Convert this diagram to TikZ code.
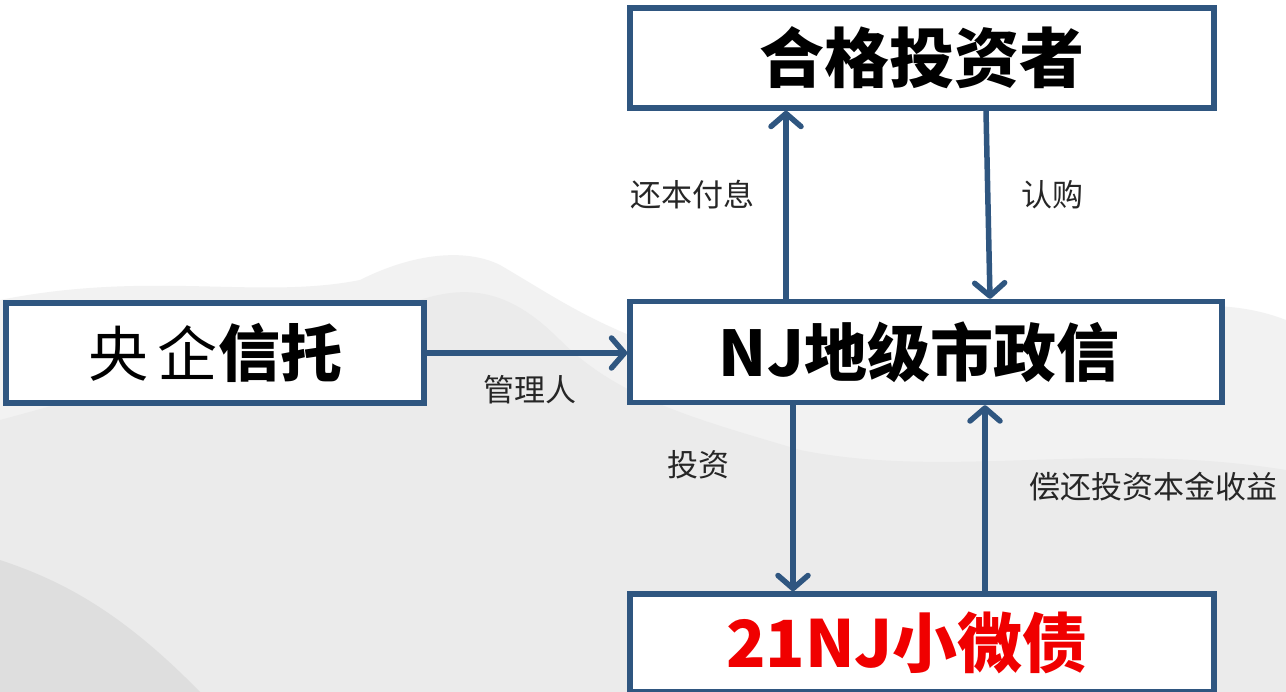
\documentclass[tikz,border=0pt]{standalone}
\usepackage{fontspec}
\newfontfamily\cjk{Noto Sans CJK SC}
\usetikzlibrary{arrows.meta}
\definecolor{boxblue}{RGB}{47,86,128}
\tikzset{
  box/.style={draw=boxblue, line width=5.5pt, fill=white, inner sep=0pt, align=center},
  arr/.style={draw=boxblue, line width=5.5pt, -{Straight Barb[length=13pt,width=30pt,line cap=round,line join=round]}},
  lbl/.style={font=\cjk\fontsize{31}{33}\selectfont, text=black!85},
  big/.style={font=\cjk\bfseries\fontsize{65}{67}\selectfont}
}
\begin{document}
\begin{tikzpicture}[x=1pt,y=-1pt]
\useasboundingbox (0,0) rectangle (1286,692);
\fill[white] (0,0) rectangle (1286,692);
% faint ink-wash mountains in the background
\fill[black!5] (0,300) .. controls (150,270) and (260,300) .. (360,280) .. controls (420,250) and (470,250) .. (500,265) .. controls (560,300) and (600,330) .. (700,360) .. controls (850,400) and (1000,330) .. (1150,310) .. controls (1220,300) and (1260,310) .. (1286,320) -- (1286,692) -- (0,692) -- cycle;
\fill[black!8] (0,420) .. controls (150,380) and (300,330) .. (420,300) .. controls (480,280) and (520,300) .. (560,340) .. controls (620,400) and (700,420) .. (800,450) .. controls (950,480) and (1100,440) .. (1286,470) -- (1286,692) -- (0,692) -- cycle;
\fill[black!13] (0,560) .. controls (60,580) and (120,610) .. (200,692) -- (0,692) -- cycle;

\node[box, minimum width=584pt, minimum height=100pt, big] (inv) at (922,58) {合格投资者};
\node[box, minimum width=418pt, minimum height=100pt] (trust) at (215,353)
  {{\cjk\fontsize{60}{62}\selectfont 央\,企}{\cjk\bfseries\fontsize{62}{64}\selectfont 信托}};
\node[box, minimum width=592pt, minimum height=101pt, font=\cjk\bfseries\fontsize{63}{65}\selectfont] (mid) at (926,352) {NJ地级市政信\hspace*{14pt}};
\node[box, minimum width=584pt, minimum height=98pt, font=\cjk\bfseries\fontsize{65}{67}\selectfont, text={rgb,255:red,240;green,0;blue,0}] (bond) at (922,643) {21NJ小微债\hspace*{30pt}};

\coordinate (c1) at (786,0);
\coordinate (c2) at (986,0);
\coordinate (c3) at (990,0);
\coordinate (c4) at (793,0);
\coordinate (c5) at (985,0);

\draw[arr] (trust.east) -- (mid.west |- trust.east);
\draw[arr] (c1 |- mid.north) -- (c1 |- inv.south);
\draw[arr] (c2 |- inv.south) -- (c3 |- mid.north);
\draw[arr] (c4 |- mid.south) -- (c4 |- bond.north);
\draw[arr] (c5 |- bond.north) -- (c5 |- mid.south);

\node[lbl] (l1) at (530,390) {管理人};
\node[lbl] (l2) at (692,195) {还本付息};
\node[lbl] (l3) at (1052,195) {认购};
\node[lbl] (l4) at (698,465) {投资};
\node[lbl] (l5) at (1153,487) {偿还投资本金收益};
\end{tikzpicture}
\end{document}
